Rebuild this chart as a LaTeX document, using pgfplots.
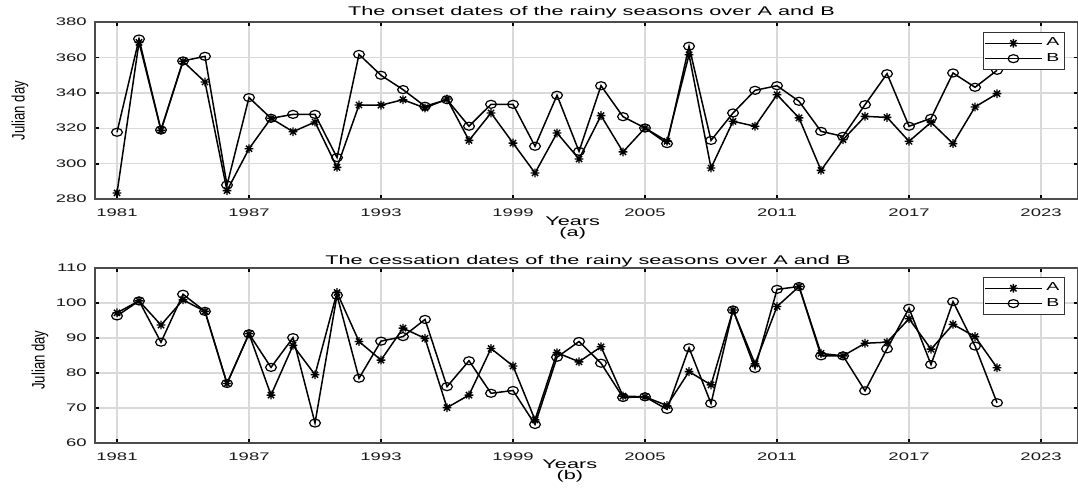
\documentclass[border=0pt]{standalone}
\usepackage{fontspec}
\setmainfont{Liberation Sans}
\usepackage{graphicx}
\usepackage{pgfplots}
\usepackage{pgfplotstable}
\pgfplotsset{compat=1.18}

% wide lettering for tick labels, titles and legend
\newcommand\wt[1]{\scalebox{1.68}[1]{#1}}
\newcommand\wl[1]{\scalebox{1.72}[1]{#1}}

% eight-armed star marker
\pgfdeclareplotmark{mstar}{%
  \pgfpathmoveto{\pgfqpoint{-\pgfplotmarksize}{0pt}}%
  \pgfpathlineto{\pgfqpoint{\pgfplotmarksize}{0pt}}%
  \pgfpathmoveto{\pgfqpoint{0pt}{-\pgfplotmarksize}}%
  \pgfpathlineto{\pgfqpoint{0pt}{\pgfplotmarksize}}%
  \pgfpathmoveto{\pgfqpoint{-.7071\pgfplotmarksize}{-.7071\pgfplotmarksize}}%
  \pgfpathlineto{\pgfqpoint{.7071\pgfplotmarksize}{.7071\pgfplotmarksize}}%
  \pgfpathmoveto{\pgfqpoint{-.7071\pgfplotmarksize}{.7071\pgfplotmarksize}}%
  \pgfpathlineto{\pgfqpoint{.7071\pgfplotmarksize}{-.7071\pgfplotmarksize}}%
  \pgfusepathqstroke}

% onset dates (Julian day)
\pgfplotstableread{
year A B
1981 283.4 317.7
1982 368.5 370.4
1983 318.8 319.0
1984 357.8 358.0
1985 346.1 360.6
1986 284.7 287.9
1987 308.4 337.3
1988 325.6 325.6
1989 318.0 327.8
1990 323.5 327.8
1991 297.9 303.4
1992 333.1 361.7
1993 333.0 349.9
1994 336.1 341.8
1995 331.4 332.4
1996 336.5 336.1
1997 313.1 321.1
1998 328.6 333.5
1999 311.6 333.5
2000 294.7 309.8
2001 317.3 338.6
2002 302.6 306.9
2003 327.1 344.0
2004 306.6 326.5
2005 320.1 320.1
2006 312.6 311.3
2007 361.5 366.3
2008 297.5 313.1
2009 323.9 328.6
2010 321.1 341.4
2011 338.9 344.0
2012 325.8 335.2
2013 296.2 318.2
2014 313.5 315.4
2015 326.7 333.3
2016 326.1 350.8
2017 312.6 321.1
2018 323.3 325.6
2019 311.3 351.2
2020 332.0 343.1
2021 339.5 352.7
}\onset

% cessation dates (Julian day)
\pgfplotstableread{
year A B
1981 97.2 96.3
1982 100.6 100.6
1983 93.7 88.8
1984 100.9 102.5
1985 97.6 97.6
1986 77.0 77.0
1987 91.2 91.2
1988 73.7 81.6
1989 87.9 90.1
1990 79.5 65.7
1991 103.0 102.2
1992 89.0 78.5
1993 83.7 89.1
1994 92.8 90.4
1995 89.9 95.3
1996 70.1 76.1
1997 73.7 83.5
1998 87.0 74.2
1999 82.0 75.0
2000 66.6 65.3
2001 85.8 84.5
2002 83.2 89.0
2003 87.5 82.8
2004 73.4 73.0
2005 73.2 73.2
2006 70.7 69.6
2007 80.4 87.2
2008 76.6 71.3
2009 98.0 98.0
2010 82.6 81.3
2011 99.0 103.9
2012 104.7 104.7
2013 85.6 84.9
2014 84.9 84.9
2015 88.5 74.9
2016 88.8 86.9
2017 95.5 98.5
2018 86.8 82.4
2019 93.9 100.4
2020 90.4 87.7
2021 81.5 71.5
}\cessation

\pgfplotsset{
  panel/.style={
    scale only axis,
    width=491.5pt,
    xmin=1980, xmax=2024.68,
    xtick={1981,1987,1993,1999,2005,2011,2017,2023},
    xticklabels={\wt{1981},\wt{1987},\wt{1993},\wt{1999},\wt{2005},\wt{2011},\wt{2017},\wt{2023}},
    tick align=inside,
    major tick length=2pt,
    tick style={black, line width=0.9pt},
    axis line style={black!70, line width=0.8pt},
    grid=major,
    major grid style={black!15, line width=0.7pt},
    ticklabel style={font=\fontsize{5.5pt}{6pt}\selectfont, text=black!90},
    xticklabel style={anchor=base, yshift=-8.6pt},
    yticklabel style={anchor=east, inner sep=0pt, xshift=-4pt},
    legend cell align=left,
    legend style={font=\fontsize{5.8pt}{6pt}\selectfont, draw=black!80, line width=0.6pt,
      inner sep=0.6pt, row sep=-1.8pt, anchor=north east},
    legend image code/.code={%
      \draw[line width=0.5pt, mark repeat=2, mark phase=2] plot coordinates {(0pt,0pt) (14.25pt,0pt) (28.5pt,0pt)};},
    every axis plot/.append style={black, line width=0.75pt},
    every axis x label/.style={font=\fontsize{6.3pt}{5.5pt}\selectfont, align=center, anchor=center},
    every axis y label/.style={font=\fontsize{9pt}{10pt}\selectfont, anchor=center, rotate=90},
    every axis title/.style={font=\fontsize{6.3pt}{7pt}\selectfont, anchor=base},
  },
  seriesA/.style={mark=mstar, mark size=2.2pt, mark options={solid, line width=0.7pt}},
  seriesB/.style={mark=o, mark size=2pt, mark options={solid, line width=0.6pt, xscale=1.35}},
}

\begin{document}
\begin{tikzpicture}
\useasboundingbox (0pt,0pt) rectangle (539pt,244pt);

% (a) onset
\begin{axis}[panel,
  at={(47.5pt,144.5pt)}, anchor=south west,
  height=88.5pt,
  ymin=280, ymax=380,
  ytick={280,300,...,380},
  yticklabels={\wt{280},\wt{300},\wt{320},\wt{340},\wt{360},\wt{380}},
  title={\wl{The onset dates of the rainy seasons over A and B}},
  title style={at={(axis description cs:0.505,1)}, yshift=3pt},
  xlabel={\wl{Years}\\\wl{(a)}},
  xlabel style={at={(axis description cs:0.486,0)}, yshift=-14.3pt},
  ylabel={\scalebox{0.73}[1]{Julian day}},
  ylabel style={at={(axis description cs:-0.0763,0.5)}},
  legend style={at={(axis description cs:0.987,0.9435)}},
]
\addplot[seriesA] table[x=year, y=A] {\onset};
\addlegendentry{\wt{A}}
\addplot[seriesB] table[x=year, y=B] {\onset};
\addlegendentry{\wt{B}}
\end{axis}

% (b) cessation
\begin{axis}[panel,
  at={(47.5pt,22.5pt)}, anchor=south west,
  height=87.5pt,
  ymin=60, ymax=110,
  ytick={60,70,...,110},
  yticklabels={\wt{60},\wt{70},\wt{80},\wt{90},\wt{100},\wt{110}},
  title={\wl{The cessation dates of the rainy seasons over A and B}},
  title style={at={(axis description cs:0.5015,1)}, yshift=1.7pt},
  xlabel={\wl{Years}\\\wl{(b)}},
  xlabel style={at={(axis description cs:0.483,0)}, yshift=-14pt},
  ylabel={\scalebox{0.73}[1]{Julian day}},
  ylabel style={at={(axis description cs:-0.056,0.474)}},
  legend style={at={(axis description cs:0.987,0.949)}},
]
\addplot[seriesA] table[x=year, y=A] {\cessation};
\addlegendentry{\wt{A}}
\addplot[seriesB] table[x=year, y=B] {\cessation};
\addlegendentry{\wt{B}}
\end{axis}
\end{tikzpicture}
\end{document}
